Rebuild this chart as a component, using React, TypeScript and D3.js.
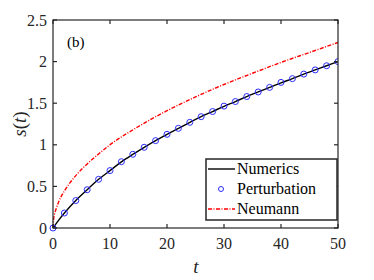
import React from "react";
import * as d3 from "d3";

// numerics (solid black)
const numT = [0, 1, 2, 4, 6, 8, 10, 12, 14, 16, 18, 20, 22, 24, 26, 28, 30, 32, 34, 36, 38, 40, 42, 44, 46, 48, 50];
const numS = [0, 0.095, 0.18, 0.33, 0.46, 0.585, 0.69, 0.795, 0.885, 0.97, 1.05, 1.126, 1.198, 1.27, 1.338, 1.4, 1.463, 1.52, 1.58, 1.635, 1.69, 1.745, 1.795, 1.85, 1.9, 1.95, 2.0];

// perturbation (blue circles)
const pertT = [0, 2, 4, 6, 8, 10, 12, 14, 16, 18, 20, 22, 24, 26, 28, 30, 32, 34, 36, 38, 40, 42, 44, 46, 48, 50];
const pertS = [0, 0.18, 0.33, 0.46, 0.585, 0.69, 0.797, 0.886, 0.97, 1.05, 1.126, 1.198, 1.27, 1.338, 1.4, 1.465, 1.52, 1.58, 1.635, 1.69, 1.75, 1.795, 1.85, 1.9, 1.95, 2.0];

// Neumann (red dash-dot)
const neuT = [0, 0.1, 0.25, 0.5, 1, 2, 3, 4, 6, 8, 10, 15, 20, 25, 30, 35, 40, 45, 50];
const neuS = [0, 0.1, 0.16, 0.22, 0.315, 0.445, 0.545, 0.63, 0.77, 0.89, 1.0, 1.22, 1.41, 1.575, 1.725, 1.86, 1.99, 2.11, 2.23];

const xTicks = [0, 10, 20, 30, 40, 50];
const yTicks = [0, 0.5, 1, 1.5, 2, 2.5];
const yTickLabels = ["0", "0.5", "1", "1.5", "2", "2.5"];

const legendItems = ["Numerics", "Perturbation", "Neumann"];

const W = 374;
const H = 280;
const m = { left: 53, right: 338, top: 20, bottom: 228 };
const font = "serif";
const axisColor = "#262626";
const dashDot = "4,1.5,1,1.5";

export default function App() {
  const x = d3.scaleLinear().domain([0, 50]).range([m.left, m.right]);
  const y = d3.scaleLinear().domain([0, 2.5]).range([m.bottom, m.top]);

  const line = d3
    .line<[number, number]>()
    .x((d) => x(d[0]))
    .y((d) => y(d[1]))
    .curve(d3.curveMonotoneX);

  const neuPath = line(neuT.map((t, i) => [t, neuS[i]] as [number, number])) || "";
  const numPath = line(numT.map((t, i) => [t, numS[i]] as [number, number])) || "";

  const legendY = [169, 189, 209];

  return (
    <svg width={W} height={H} style={{ position: "absolute", left: 0, top: 0 }}>
      <rect width={W} height={H} fill="white" />
      <defs>
        <clipPath id="plotclip">
          <rect x={m.left - 4} y={m.top} width={m.right - m.left + 4} height={m.bottom - m.top + 5} />
        </clipPath>
      </defs>

      <g clipPath="url(#plotclip)">
        <path d={neuPath} fill="none" stroke="#ff0000" strokeWidth={1.4} strokeDasharray={dashDot} />
        <path d={numPath} fill="none" stroke="#000" strokeWidth={1.4} />
        {pertT.map((t, i) => (
          <circle key={"p" + t} cx={x(t)} cy={y(pertS[i])} r={3} fill="none" stroke="#2b2bff" strokeWidth={1} />
        ))}
      </g>

      {/* box and ticks */}
      <rect x={m.left} y={m.top} width={m.right - m.left} height={m.bottom - m.top} fill="none" stroke={axisColor} strokeWidth={1.2} />
      {xTicks.map((t) => (
        <g key={"xt" + t} stroke={axisColor} strokeWidth={1.2}>
          <line x1={x(t)} x2={x(t)} y1={m.bottom} y2={m.bottom - 4} />
          <line x1={x(t)} x2={x(t)} y1={m.top} y2={m.top + 4} />
        </g>
      ))}
      {yTicks.map((v) => (
        <g key={"yt" + v} stroke={axisColor} strokeWidth={1.2}>
          <line x1={m.left} x2={m.left + 4} y1={y(v)} y2={y(v)} />
          <line x1={m.right} x2={m.right - 4} y1={y(v)} y2={y(v)} />
        </g>
      ))}

      {/* tick labels */}
      {xTicks.map((t) => (
        <text key={"xl" + t} x={x(t)} y={249} textAnchor="middle" fontFamily={font} fontSize={16} fill={axisColor}>
          {t}
        </text>
      ))}
      {yTicks.map((v, i) => (
        <text key={"yl" + v} x={47} y={y(v) + 5.5} textAnchor="end" fontFamily={font} fontSize={16} fill={axisColor}>
          {yTickLabels[i]}
        </text>
      ))}

      {/* axis labels */}
      <text x={196} y={273} textAnchor="middle" fontFamily={font} fontStyle="italic" fontSize={19} fill={axisColor}>
        t
      </text>
      <text transform="translate(26,124) rotate(-90)" textAnchor="middle" fontFamily={font} fontSize={19} fill={axisColor}>
        <tspan fontStyle="italic">s</tspan>
        <tspan>(</tspan>
        <tspan fontStyle="italic">t</tspan>
        <tspan>)</tspan>
      </text>

      <text x={67} y={47} fontFamily={font} fontSize={15} fill="#000">
        (b)
      </text>

      {/* legend */}
      <rect x={206} y={159} width={131} height={61} fill="white" stroke={axisColor} strokeWidth={1.5} />
      <line x1={208} x2={235} y1={legendY[0]} y2={legendY[0]} stroke="#000" strokeWidth={1.4} />
      <circle cx={221} cy={legendY[1]} r={2.5} fill="none" stroke="#2b2bff" strokeWidth={1} />
      <line x1={208} x2={235} y1={legendY[2]} y2={legendY[2]} stroke="#ff0000" strokeWidth={1.4} strokeDasharray={dashDot} />
      {legendItems.map((label, i) => (
        <text key={label} x={237} y={legendY[i] + 5} fontFamily={font} fontSize={16} fill="#000">
          {label}
        </text>
      ))}
    </svg>
  );
}
